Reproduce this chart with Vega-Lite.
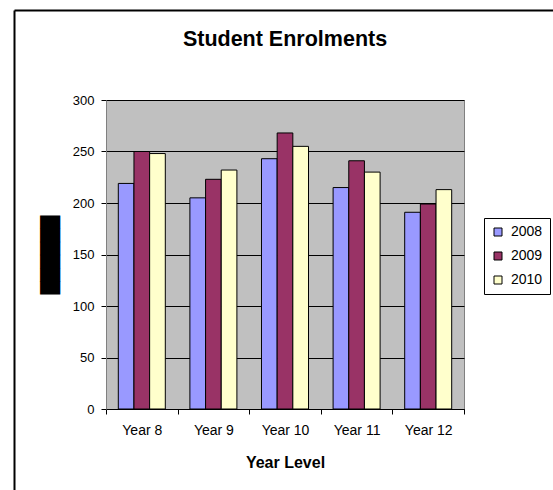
{
  "$schema": "https://vega.github.io/schema/vega-lite/v6.json",
  "width": 358,
  "height": 309,
  "autosize": {"type": "none"},
  "padding": {"left": 106, "top": 100, "right": 89, "bottom": 81},
  "background": "white",
  "title": {
    "text": "Student Enrolments",
    "fontSize": 21.5,
    "fontWeight": "bold",
    "font": "Liberation Sans",
    "color": "black",
    "frame": "group",
    "anchor": "middle",
    "baseline": "alphabetic",
    "offset": -57
  },
  "data": {
    "values": [
      {"level": "Year 8", "year": "2008", "value": 219},
      {"level": "Year 8", "year": "2009", "value": 250},
      {"level": "Year 8", "year": "2010", "value": 248},
      {"level": "Year 9", "year": "2008", "value": 205},
      {"level": "Year 9", "year": "2009", "value": 223},
      {"level": "Year 9", "year": "2010", "value": 232},
      {"level": "Year 10", "year": "2008", "value": 243},
      {"level": "Year 10", "year": "2009", "value": 268},
      {"level": "Year 10", "year": "2010", "value": 255},
      {"level": "Year 11", "year": "2008", "value": 215},
      {"level": "Year 11", "year": "2009", "value": 241},
      {"level": "Year 11", "year": "2010", "value": 230},
      {"level": "Year 12", "year": "2008", "value": 191},
      {"level": "Year 12", "year": "2009", "value": 199},
      {"level": "Year 12", "year": "2010", "value": 213}
    ]
  },
  "layer": [
    {
      "mark": {"type": "bar", "stroke": "black", "strokeWidth": 1},
      "encoding": {
        "x": {
          "field": "level",
          "type": "nominal",
          "sort": ["Year 8", "Year 9", "Year 10", "Year 11", "Year 12"],
          "scale": {"paddingInner": 0, "paddingOuter": 0},
          "axis": {
            "title": "Year Level",
            "titleFontSize": 16,
            "titleFontWeight": "bold",
            "titleBaseline": "alphabetic",
            "titleY": 58,
            "labelAngle": 0,
            "labelFontSize": 14,
            "labelPadding": 9,
            "tickBand": "extent",
            "tickSize": 5,
            "tickColor": "black",
            "domainColor": "black",
            "grid": false
          }
        },
        "y": {
          "field": "value",
          "type": "quantitative",
          "scale": {"domain": [0, 300], "nice": false},
          "axis": {
            "title": "██████",
            "titleFont": "DejaVu Sans",
            "titleFontSize": 17,
            "titleFontWeight": "normal",
            "titlePadding": 13,
            "values": [0, 50, 100, 150, 200, 250, 300],
            "labelFontSize": 13,
            "labelPadding": 7,
            "tickSize": 5,
            "tickColor": "black",
            "domainColor": "#808080",
            "grid": true,
            "gridColor": "black",
            "gridOpacity": 1
          }
        },
        "xOffset": {
          "field": "year",
          "type": "nominal",
          "scale": {"paddingInner": 0, "paddingOuter": 0.785}
        },
        "color": {
          "field": "year",
          "type": "nominal",
          "scale": {"domain": ["2008", "2009", "2010"], "range": ["#9999FF", "#993366", "#FFFFCC"]},
          "legend": {
            "title": null,
            "orient": "none",
            "legendX": 378,
            "legendY": 118,
            "strokeColor": "black",
            "fillColor": "white",
            "padding": 7,
            "symbolType": "square",
            "symbolSize": 64,
            "symbolStrokeColor": "black",
            "symbolStrokeWidth": 1,
            "labelFontSize": 14,
            "rowPadding": 10,
            "labelOffset": 6
          }
        }
      }
    },
    {
      "mark": {"type": "point", "opacity": 0},
      "encoding": {
        "x": {
          "field": "value",
          "type": "quantitative",
          "scale": {"range": [-92, 460], "zero": false},
          "axis": {"orient": "top", "offset": 90, "labels": false, "ticks": false, "grid": false, "title": null, "domainColor": "black", "domainWidth": 2}
        },
        "y": {
          "field": "value",
          "type": "quantitative",
          "scale": {"range": [400, -90], "zero": false},
          "axis": {"orient": "left", "offset": 92, "labels": false, "ticks": false, "grid": false, "title": null, "domainColor": "black", "domainWidth": 2}
        }
      }
    }
  ],
  "resolve": {"scale": {"x": "independent", "y": "independent"}, "axis": {"x": "independent", "y": "independent"}},
  "config": {
    "font": "Liberation Sans",
    "view": {"fill": "#C0C0C0", "stroke": "#808080"},
    "axis": {"labelColor": "black", "titleColor": "black"},
    "legend": {"labelColor": "black"}
  }
}
